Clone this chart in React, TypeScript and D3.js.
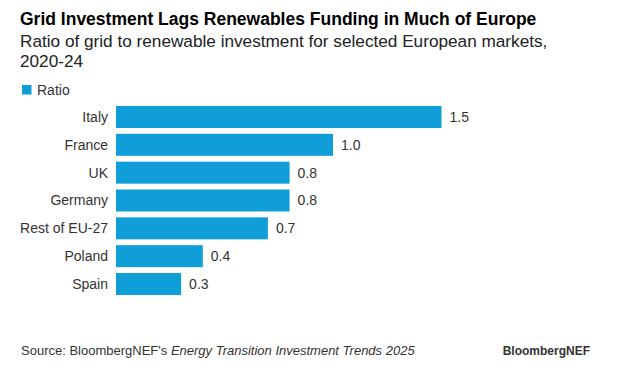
import React from 'react';
import * as d3 from 'd3';

const categories = ['Italy', 'France', 'UK', 'Germany', 'Rest of EU-27', 'Poland', 'Spain'];
const ratios = [1.5, 1.0, 0.8, 0.8, 0.7, 0.4, 0.3];
const valueLabels = ['1.5', '1.0', '0.8', '0.8', '0.7', '0.4', '0.3'];

const WIDTH = 623;
const HEIGHT = 386;
const BAR_COLOR = '#109ed9';
const FONT = "'Liberation Sans', Arial, Helvetica, sans-serif";

export default function App() {
  const x = d3.scaleLinear().domain([0, 1.5]).range([116, 441.5]);
  const y = d3.scaleBand<string>()
    .domain(categories)
    .range([103.2, 297.8])
    .paddingInner(0.21)
    .paddingOuter(0.1);

  return (
    <svg
      width={WIDTH}
      height={HEIGHT}
      style={{ position: 'absolute', left: 0, top: 0, background: '#fff' }}
      fontFamily={FONT}
    >
      {/* title block */}
      <text x={20} y={25} fontSize={17.5} fontWeight="bold" fill="#000">
        Grid Investment Lags Renewables Funding in Much of Europe
      </text>
      <text x={20} y={47} fontSize={17.2} fill="#222">
        Ratio of grid to renewable investment for selected European markets,
      </text>
      <text x={20} y={67} fontSize={17.2} fill="#222">
        2020-24
      </text>

      {/* legend */}
      <rect x={22} y={85} width={9.5} height={9.5} fill={BAR_COLOR} />
      <text x={37} y={94.5} fontSize={14} fill="#333">Ratio</text>

      {/* bars */}
      {categories.map((c, i) => {
        const y0 = y(c) ?? 0;
        const bw = y.bandwidth();
        return (
          <g key={c}>
            <rect x={x(0)} y={y0} width={x(ratios[i]) - x(0)} height={bw} fill={BAR_COLOR} />
            <text x={108} y={y0 + bw / 2} dy="0.35em" textAnchor="end" fontSize={14} fill="#333">
              {c}
            </text>
            <text x={x(ratios[i]) + 8} y={y0 + bw / 2} dy="0.35em" fontSize={14} fill="#333">
              {valueLabels[i]}
            </text>
          </g>
        );
      })}

      {/* footer */}
      <text x={21} y={355} fontSize={13} fill="#333">
        Source: BloombergNEF's <tspan fontStyle="italic">Energy Transition Investment Trends 2025</tspan>
      </text>
      <text x={590} y={355} textAnchor="end" fontSize={12} fontWeight="bold" fill="#333">
        BloombergNEF
      </text>
    </svg>
  );
}
